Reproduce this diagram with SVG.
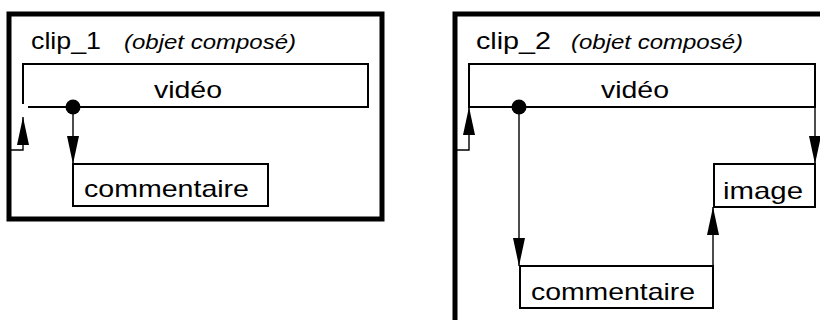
<svg xmlns="http://www.w3.org/2000/svg" width="820" height="320" viewBox="0 0 820 320">
<style>
.frame{fill:none;stroke:#000;stroke-width:5}
.box{fill:#fff;stroke:#000;stroke-width:2}
.con{fill:none;stroke:#000;stroke-width:1.4;marker-end:url(#arr)}
.t{font-family:"Liberation Sans",Arial,sans-serif;font-size:24px;fill:#000}
.ti{font-family:"Liberation Sans",Arial,sans-serif;font-size:20px;font-style:italic;fill:#000}
</style>
<defs>
<marker id="arr" markerUnits="userSpaceOnUse" markerWidth="28" markerHeight="12" refX="28" refY="6" orient="auto">
<path d="M0,0 L28,6 L0,12 z" fill="#000"/>
</marker>
</defs>
<rect width="820" height="320" fill="#fff"/>
<g id="clip_1">
<rect class="frame" x="9" y="14" width="373" height="205"/>
<text class="t" x="31" y="49" textLength="70" lengthAdjust="spacingAndGlyphs">clip_1</text>
<text class="ti" x="124" y="49" textLength="172" lengthAdjust="spacingAndGlyphs">(objet composé)</text>
</g>
<g id="video_1">
<path class="box" d="M28,107 H368 V64 H23 V104" style="fill:none"/>
<text class="t" x="154" y="98" textLength="68" lengthAdjust="spacingAndGlyphs">vidéo</text>
</g>
<g id="commentaire_1">
<rect class="box" x="73" y="164" width="195" height="42"/>
<text class="t" x="84" y="197" textLength="165" lengthAdjust="spacingAndGlyphs">commentaire</text>
</g>
<g id="clip_2">
<rect class="frame" x="455" y="14" width="400" height="350"/>
<text class="t" x="476" y="49" textLength="75" lengthAdjust="spacingAndGlyphs">clip_2</text>
<text class="ti" x="571" y="49" textLength="172" lengthAdjust="spacingAndGlyphs">(objet composé)</text>
</g>
<g id="video_2">
<rect class="box" x="469" y="64" width="346" height="43"/>
<text class="t" x="601" y="98" textLength="68" lengthAdjust="spacingAndGlyphs">vidéo</text>
</g>
<g id="commentaire_2">
<rect class="box" x="520" y="266" width="193" height="42"/>
<text class="t" x="531" y="300" textLength="164" lengthAdjust="spacingAndGlyphs">commentaire</text>
</g>
<g id="image_2">
<rect class="box" x="714" y="164" width="101" height="43"/>
<text class="t" x="723" y="199" textLength="80" lengthAdjust="spacingAndGlyphs">image</text>
</g>
<g id="connectors">
<path class="con" d="M11,150 H23 V117"/>
<circle cx="73" cy="107" r="7.5" fill="#000"/>
<path class="con" d="M73,107 V164"/>
<path class="con" d="M457,150 H469 V107"/>
<circle cx="519" cy="107" r="7.5" fill="#000"/>
<path class="con" d="M519,107 V266"/>
<path class="con" d="M713,266 V207"/>
<path class="con" d="M815,107 V164"/>
</g>
</svg>
